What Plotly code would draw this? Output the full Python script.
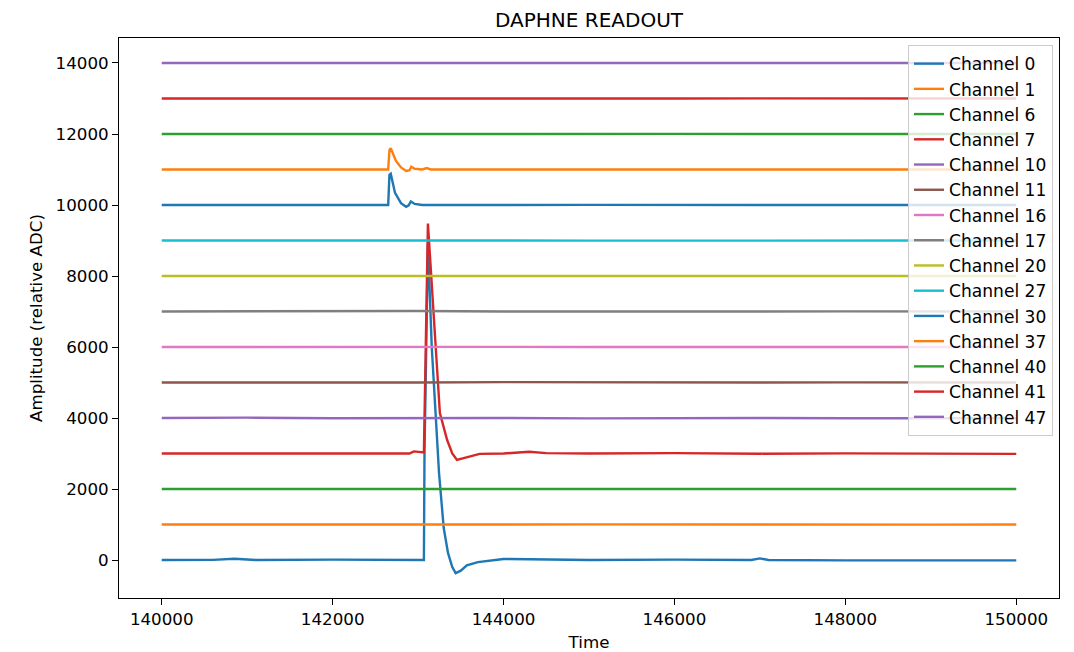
import plotly.graph_objects as go

# ---- data ----
channels = ["Channel 0", "Channel 1", "Channel 6", "Channel 7", "Channel 10",
            "Channel 11", "Channel 16", "Channel 17", "Channel 20", "Channel 27",
            "Channel 30", "Channel 37", "Channel 40", "Channel 41", "Channel 47"]

t_flat = [140000, 141000, 142000, 143000, 144000, 145000, 146000, 147000, 148000, 149000, 150000]

ch1_v = [1000, 1005, 998, 1002, 1000, 1004, 999, 1001, 1003, 998, 1000]
ch6_v = [2000, 2003, 1998, 2005, 2000, 1998, 2002, 2000, 1999, 2003, 2000]
ch10_v = [4000, 4010, 3995, 4005, 4000, 3990, 4005, 4000, 3995, 4000, 3995]
ch11_v = [5000, 4995, 5005, 5000, 5010, 5000, 4995, 5000, 5005, 5000, 5000]
ch16_v = [6000, 6005, 5995, 6000, 6005, 6000, 5998, 6003, 6000, 5997, 6000]
ch17_v = [7000, 7010, 7000, 7015, 6998, 7005, 7000, 6998, 7003, 7000, 7000]
ch20_v = [8000, 8003, 7998, 8010, 8000, 8002, 7999, 8000, 8003, 7998, 8000]
ch27_v = [9000, 9005, 8998, 9003, 9000, 8997, 9002, 9000, 9004, 8998, 9000]
ch40_v = [12000, 12003, 11998, 12002, 12000, 11999, 12003, 12000, 11998, 12002, 12000]
ch41_v = [13000, 12997, 13003, 13000, 13002, 12998, 13000, 13003, 12999, 13000, 13000]
ch47_v = [14000, 14002, 13998, 14000, 14003, 14000, 13998, 14002, 14000, 13999, 14000]

ch0_t = [140000, 140600, 140850, 141100, 142000, 143000, 143068, 143075, 143115, 143160,
         143245, 143300, 143350, 143400, 143440, 143500, 143570, 143700, 143900, 144000,
         144300, 145000, 146000, 146900, 147000, 147100, 148000, 149000, 150000]
ch0_v = [0, 5, 35, 0, 10, 0, 0, 3000, 8900, 6000,
         2450, 900, 200, -200, -370, -300, -150, -60, 10, 30,
         20, 0, 10, 0, 45, 0, -10, 0, -10]

ch7_t = [140000, 141000, 142000, 142900, 142950, 143060, 143068, 143115, 143200, 143255,
         143340, 143400, 143455, 143570, 143720, 144000, 144300, 144500, 145000, 146000,
         147000, 148000, 149000, 150000]
ch7_v = [3000, 2995, 3005, 3000, 3060, 3040, 3030, 9480, 6110, 4140,
         3380, 3000, 2820, 2900, 2990, 3000, 3050, 3010, 3000, 3010,
         2995, 3005, 2990, 2990]

ch30_t = [140000, 141000, 142000, 142650, 142665, 142680, 142730, 142800, 142860, 142890,
          142915, 142960, 143050, 143500, 144000, 145000, 146000, 147000, 148000, 149000, 150000]
ch30_v = [10000, 10005, 9998, 10000, 10850, 10880, 10340, 10050, 9950, 9990,
          10100, 10030, 10000, 9995, 10000, 10003, 10000, 9998, 10002, 10000, 10000]

ch37_t = [140000, 141000, 142000, 142650, 142665, 142680, 142740, 142800, 142860, 142900,
          142920, 142960, 143050, 143100, 143150, 144000, 145000, 146000, 147000, 148000, 149000, 150000]
ch37_v = [11000, 11003, 10998, 11000, 11550, 11600, 11250, 11060, 10960, 10980,
          11080, 11020, 11000, 11040, 11000, 11000, 11003, 11000, 10998, 11002, 11000, 11000]

series_t = [ch0_t, t_flat, t_flat, ch7_t, t_flat, t_flat, t_flat, t_flat, t_flat, t_flat,
            ch30_t, ch37_t, t_flat, t_flat, t_flat]
series_v = [ch0_v, ch1_v, ch6_v, ch7_v, ch10_v, ch11_v, ch16_v, ch17_v, ch20_v, ch27_v,
            ch30_v, ch37_v, ch40_v, ch41_v, ch47_v]

colors = ["#1f77b4", "#ff7f0e", "#2ca02c", "#d62728", "#9467bd", "#8c564b", "#e377c2",
          "#7f7f7f", "#bcbd22", "#17becf"]

x_ticks = [140000, 142000, 144000, 146000, 148000, 150000]
y_ticks = [0, 2000, 4000, 6000, 8000, 10000, 12000, 14000]

fig = go.Figure()
for i, (name, t, v) in enumerate(zip(channels, series_t, series_v)):
    fig.add_trace(go.Scatter(x=t, y=v, mode="lines", name=name,
                             line=dict(color=colors[i % 10], width=2.4)))

font_family = "DejaVu Sans"
fs = 16.7
fig.update_layout(
    width=1074, height=652,
    margin=dict(l=119, r=15, t=38, b=54),
    plot_bgcolor="white", paper_bgcolor="white",
    font=dict(family=font_family, size=fs, color="black"),
    title=dict(text="DAPHNE READOUT", x=(119 + 1059) / 2 / 1074, xanchor="center",
               y=1 - 20 / 652, yanchor="middle", font=dict(size=20, color="black")),
    legend=dict(x=0.9936, xanchor="right", y=0.9875, yanchor="top",
                bgcolor="rgba(255,255,255,0.8)", bordercolor="#cccccc", borderwidth=1,
                font=dict(size=17.1, color="black"), tracegroupgap=0, itemwidth=30),
    showlegend=True,
)
fig.update_xaxes(range=[139500, 150500], tickvals=x_ticks, ticktext=[str(v) for v in x_ticks],
                 showline=True, linecolor="black", linewidth=1, mirror=True, automargin=False,
                 ticks="outside", ticklen=6, tickcolor="black", showgrid=False, zeroline=False,
                 tickfont=dict(size=fs),
                 title=dict(text="Time", font=dict(size=fs), standoff=9))
fig.update_yaxes(range=[-1070, 14704], tickvals=y_ticks, ticktext=[str(v) for v in y_ticks],
                 showline=True, linecolor="black", linewidth=1, mirror=True, automargin=False,
                 ticks="outside", ticklen=6, tickcolor="black", showgrid=False, zeroline=False,
                 tickfont=dict(size=fs),
                 title=dict(text="Amplitude (relative ADC)", font=dict(size=fs), standoff=8))

fig.write_html("out.html")
